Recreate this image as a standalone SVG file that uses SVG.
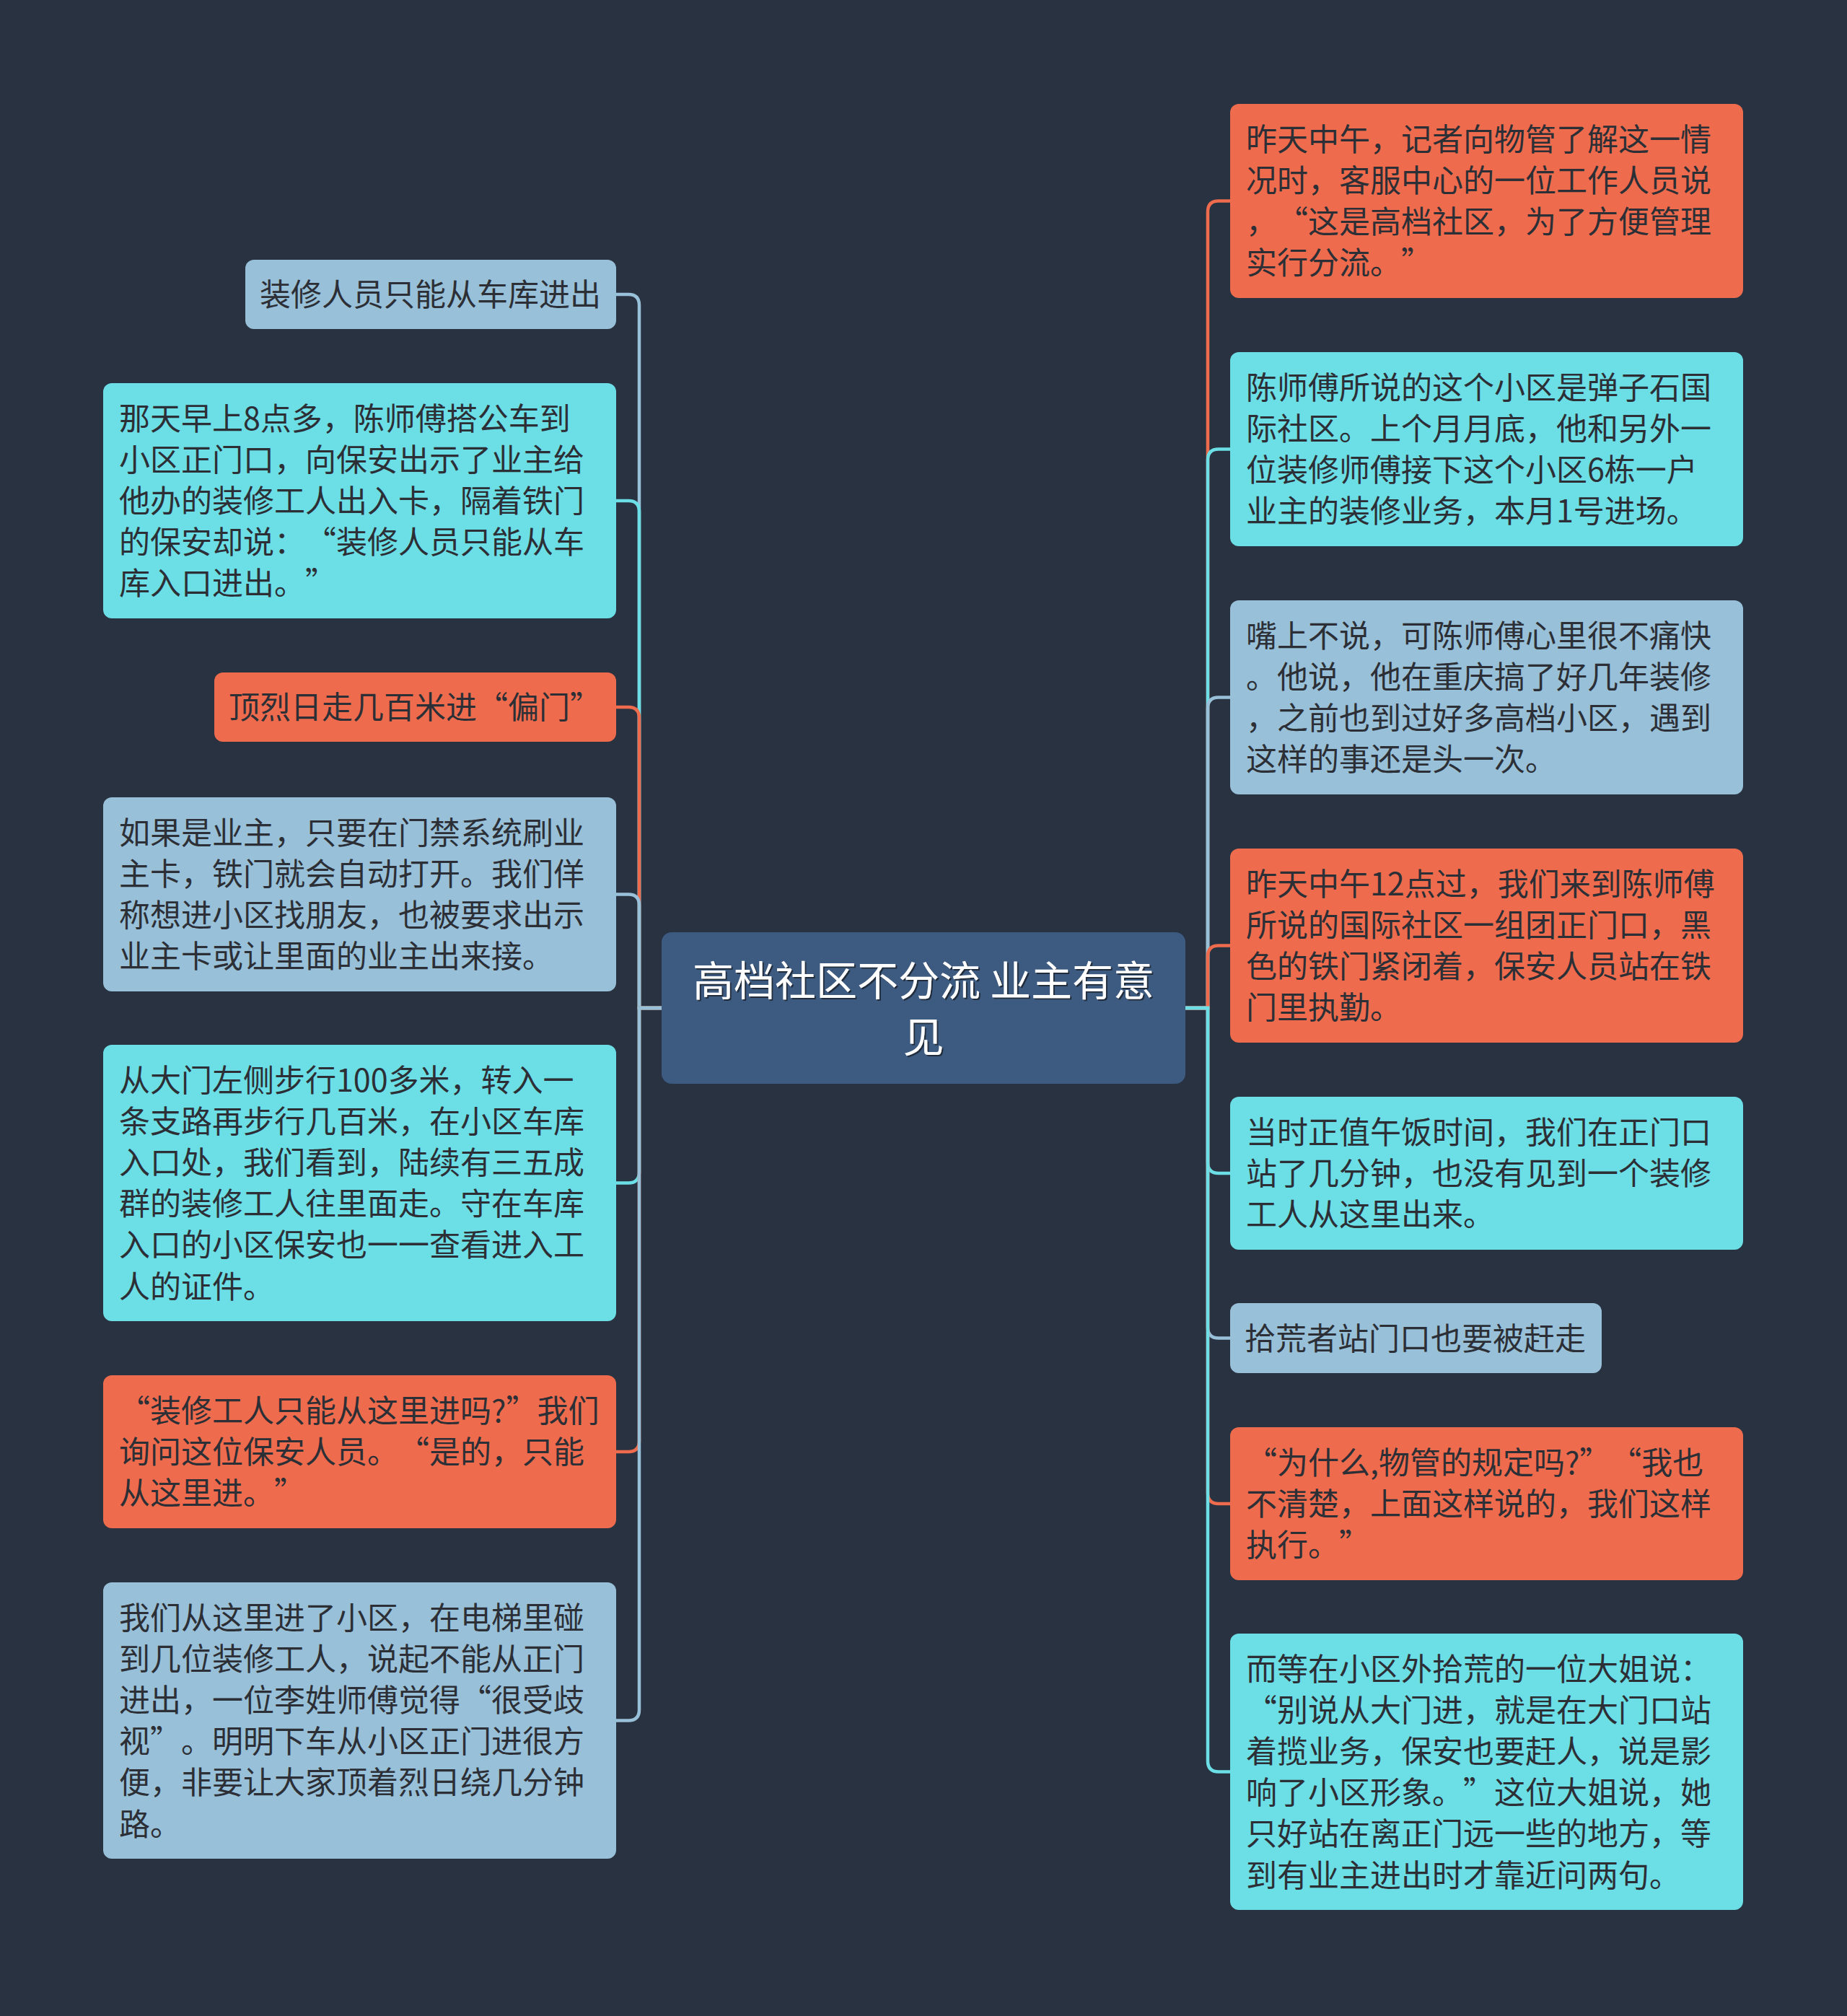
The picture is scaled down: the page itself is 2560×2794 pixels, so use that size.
<svg xmlns="http://www.w3.org/2000/svg" width="2560" height="2794" viewBox="0 0 2560 2794">
<defs>
<style>
.bg{fill:#293241}
.lb{fill:#98c1d9}
.cy{fill:#6cdee5}
.or{fill:#ee6c4d}
.root{fill:#3d5a80}
.t{font-family:"Noto Sans CJK SC","Noto Sans",sans-serif;font-size:43px;fill:#2d2f36;text-spacing-trim:space-all}
.tt{font-family:"Noto Sans CJK SC","Noto Sans",sans-serif;font-size:57px;fill:#ffffff;text-anchor:middle}
.c{fill:none;stroke-width:4.5}
.clb{stroke:#98c1d9}
.ccy{stroke:#6cdee5}
.cor{stroke:#ee6c4d}
</style>
<filter id="sh" x="-5%" y="-20%" width="110%" height="140%">
<feDropShadow dx="2" dy="2" stdDeviation="0.6" flood-color="#1b2536" flood-opacity="0.9"/>
</filter>
</defs>
<rect class="bg" x="0" y="0" width="2560" height="2794"/>

<g id="connectors">
<path class="c clb" d="M917 1397 L886 1397 L886 423 Q886 408 871 408 L854 408"/>
<path class="c ccy" d="M917 1397 L886 1397 L886 709 Q886 694 871 694 L854 694"/>
<path class="c cor" d="M917 1397 L886 1397 L886 995 Q886 980 871 980 L854 980"/>
<path class="c clb" d="M917 1397 L886 1397 L886 1254.5 Q886 1239.5 871 1239.5 L854 1239.5"/>
<path class="c ccy" d="M917 1397 L886 1397 L886 1624.5 Q886 1639.5 871 1639.5 L854 1639.5"/>
<path class="c cor" d="M917 1397 L886 1397 L886 1997 Q886 2012 871 2012 L854 2012"/>
<path class="c clb" d="M917 1397 L886 1397 L886 2369.5 Q886 2384.5 871 2384.5 L854 2384.5"/>
<path class="c cor" d="M1643 1397 L1674 1397 L1674 293.5 Q1674 278.5 1689 278.5 L1705 278.5"/>
<path class="c ccy" d="M1643 1397 L1674 1397 L1674 637.5 Q1674 622.5 1689 622.5 L1705 622.5"/>
<path class="c clb" d="M1643 1397 L1674 1397 L1674 981.5 Q1674 966.5 1689 966.5 L1705 966.5"/>
<path class="c cor" d="M1643 1397 L1674 1397 L1674 1325.5 Q1674 1310.5 1689 1310.5 L1705 1310.5"/>
<path class="c ccy" d="M1643 1397 L1674 1397 L1674 1611 Q1674 1626 1689 1626 L1705 1626"/>
<path class="c clb" d="M1643 1397 L1674 1397 L1674 1839.5 Q1674 1854.5 1689 1854.5 L1705 1854.5"/>
<path class="c cor" d="M1643 1397 L1674 1397 L1674 2069 Q1674 2084 1689 2084 L1705 2084"/>
<path class="c ccy" d="M1643 1397 L1674 1397 L1674 2440.5 Q1674 2455.5 1689 2455.5 L1705 2455.5"/>
</g>

<g id="root">
<rect class="root" x="917" y="1292" width="726" height="210" rx="14"/>
<g filter="url(#sh)">
<text class="tt" x="1280" y="1380">高档社区不分流 业主有意</text>
<text class="tt" x="1280" y="1458">见</text>
</g>
</g>

<g id="L1">
<rect class="lb" x="340" y="360" width="514" height="96" rx="12"/>
<text class="t" x="360" y="424">装修人员只能从车库进出</text>
</g>

<g id="L2">
<rect class="cy" x="143" y="531" width="711" height="326" rx="12"/>
<text class="t" x="165" y="595.6">那天早上8点多，陈师傅搭公车到</text>
<text class="t" x="165" y="652.8">小区正门口，向保安出示了业主给</text>
<text class="t" x="165" y="710">他办的装修工人出入卡，隔着铁门</text>
<text class="t" x="165" y="767.2">的保安却说：“装修人员只能从车</text>
<text class="t" x="165" y="824.4">库入口进出。”</text>
</g>

<g id="L3">
<rect class="or" x="297" y="932" width="557" height="96" rx="12"/>
<text class="t" x="317" y="996">顶烈日走几百米进“偏门”</text>
</g>

<g id="L4">
<rect class="lb" x="143" y="1105" width="711" height="269" rx="12"/>
<text class="t" x="165" y="1169.7">如果是业主，只要在门禁系统刷业</text>
<text class="t" x="165" y="1226.9">主卡，铁门就会自动打开。我们佯</text>
<text class="t" x="165" y="1284.1">称想进小区找朋友，也被要求出示</text>
<text class="t" x="165" y="1341.3">业主卡或让里面的业主出来接。</text>
</g>

<g id="L5">
<rect class="cy" x="143" y="1448" width="711" height="383" rx="12"/>
<text class="t" x="165" y="1512.5">从大门左侧步行100多米，转入一</text>
<text class="t" x="165" y="1569.7">条支路再步行几百米，在小区车库</text>
<text class="t" x="165" y="1626.9">入口处，我们看到，陆续有三五成</text>
<text class="t" x="165" y="1684.1">群的装修工人往里面走。守在车库</text>
<text class="t" x="165" y="1741.3">入口的小区保安也一一查看进入工</text>
<text class="t" x="165" y="1798.5">人的证件。</text>
</g>

<g id="L6">
<rect class="or" x="143" y="1906" width="711" height="212" rx="12"/>
<text class="t" x="165" y="1970.8">“装修工人只能从这里进吗?”我们</text>
<text class="t" x="165" y="2028">询问这位保安人员。“是的，只能</text>
<text class="t" x="165" y="2085.2">从这里进。”</text>
</g>

<g id="L7">
<rect class="lb" x="143" y="2193" width="711" height="383" rx="12"/>
<text class="t" x="165" y="2257.5">我们从这里进了小区，在电梯里碰</text>
<text class="t" x="165" y="2314.7">到几位装修工人，说起不能从正门</text>
<text class="t" x="165" y="2371.9">进出，一位李姓师傅觉得“很受歧</text>
<text class="t" x="165" y="2429.1">视”。明明下车从小区正门进很方</text>
<text class="t" x="165" y="2486.3">便，非要让大家顶着烈日绕几分钟</text>
<text class="t" x="165" y="2543.5">路。</text>
</g>

<g id="R1">
<rect class="or" x="1705" y="144" width="711" height="269" rx="12"/>
<text class="t" x="1727" y="208.7">昨天中午，记者向物管了解这一情</text>
<text class="t" x="1727" y="265.9">况时，客服中心的一位工作人员说</text>
<text class="t" x="1727" y="323.1">，“这是高档社区，为了方便管理</text>
<text class="t" x="1727" y="380.3">实行分流。”</text>
</g>

<g id="R2">
<rect class="cy" x="1705" y="488" width="711" height="269" rx="12"/>
<text class="t" x="1727" y="552.7">陈师傅所说的这个小区是弹子石国</text>
<text class="t" x="1727" y="609.9">际社区。上个月月底，他和另外一</text>
<text class="t" x="1727" y="667.1">位装修师傅接下这个小区6栋一户</text>
<text class="t" x="1727" y="724.3">业主的装修业务，本月1号进场。</text>
</g>

<g id="R3">
<rect class="lb" x="1705" y="832" width="711" height="269" rx="12"/>
<text class="t" x="1727" y="896.7">嘴上不说，可陈师傅心里很不痛快</text>
<text class="t" x="1727" y="953.9">。他说，他在重庆搞了好几年装修</text>
<text class="t" x="1727" y="1011.1">，之前也到过好多高档小区，遇到</text>
<text class="t" x="1727" y="1068.3">这样的事还是头一次。</text>
</g>

<g id="R4">
<rect class="or" x="1705" y="1176" width="711" height="269" rx="12"/>
<text class="t" x="1727" y="1240.7">昨天中午12点过，我们来到陈师傅</text>
<text class="t" x="1727" y="1297.9">所说的国际社区一组团正门口，黑</text>
<text class="t" x="1727" y="1355.1">色的铁门紧闭着，保安人员站在铁</text>
<text class="t" x="1727" y="1412.3">门里执勤。</text>
</g>

<g id="R5">
<rect class="cy" x="1705" y="1520" width="711" height="212" rx="12"/>
<text class="t" x="1727" y="1584.8">当时正值午饭时间，我们在正门口</text>
<text class="t" x="1727" y="1642">站了几分钟，也没有见到一个装修</text>
<text class="t" x="1727" y="1699.2">工人从这里出来。</text>
</g>

<g id="R6">
<rect class="lb" x="1705" y="1806" width="515" height="97" rx="12"/>
<text class="t" x="1725" y="1870.5">拾荒者站门口也要被赶走</text>
</g>

<g id="R7">
<rect class="or" x="1705" y="1978" width="711" height="212" rx="12"/>
<text class="t" x="1727" y="2042.8">“为什么,物管的规定吗?”“我也</text>
<text class="t" x="1727" y="2100">不清楚，上面这样说的，我们这样</text>
<text class="t" x="1727" y="2157.2">执行。”</text>
</g>

<g id="R8">
<rect class="cy" x="1705" y="2264" width="711" height="383" rx="12"/>
<text class="t" x="1727" y="2328.5">而等在小区外拾荒的一位大姐说：</text>
<text class="t" x="1727" y="2385.7">“别说从大门进，就是在大门口站</text>
<text class="t" x="1727" y="2442.9">着揽业务，保安也要赶人，说是影</text>
<text class="t" x="1727" y="2500.1">响了小区形象。”这位大姐说，她</text>
<text class="t" x="1727" y="2557.3">只好站在离正门远一些的地方，等</text>
<text class="t" x="1727" y="2614.5">到有业主进出时才靠近问两句。</text>
</g>
</svg>
